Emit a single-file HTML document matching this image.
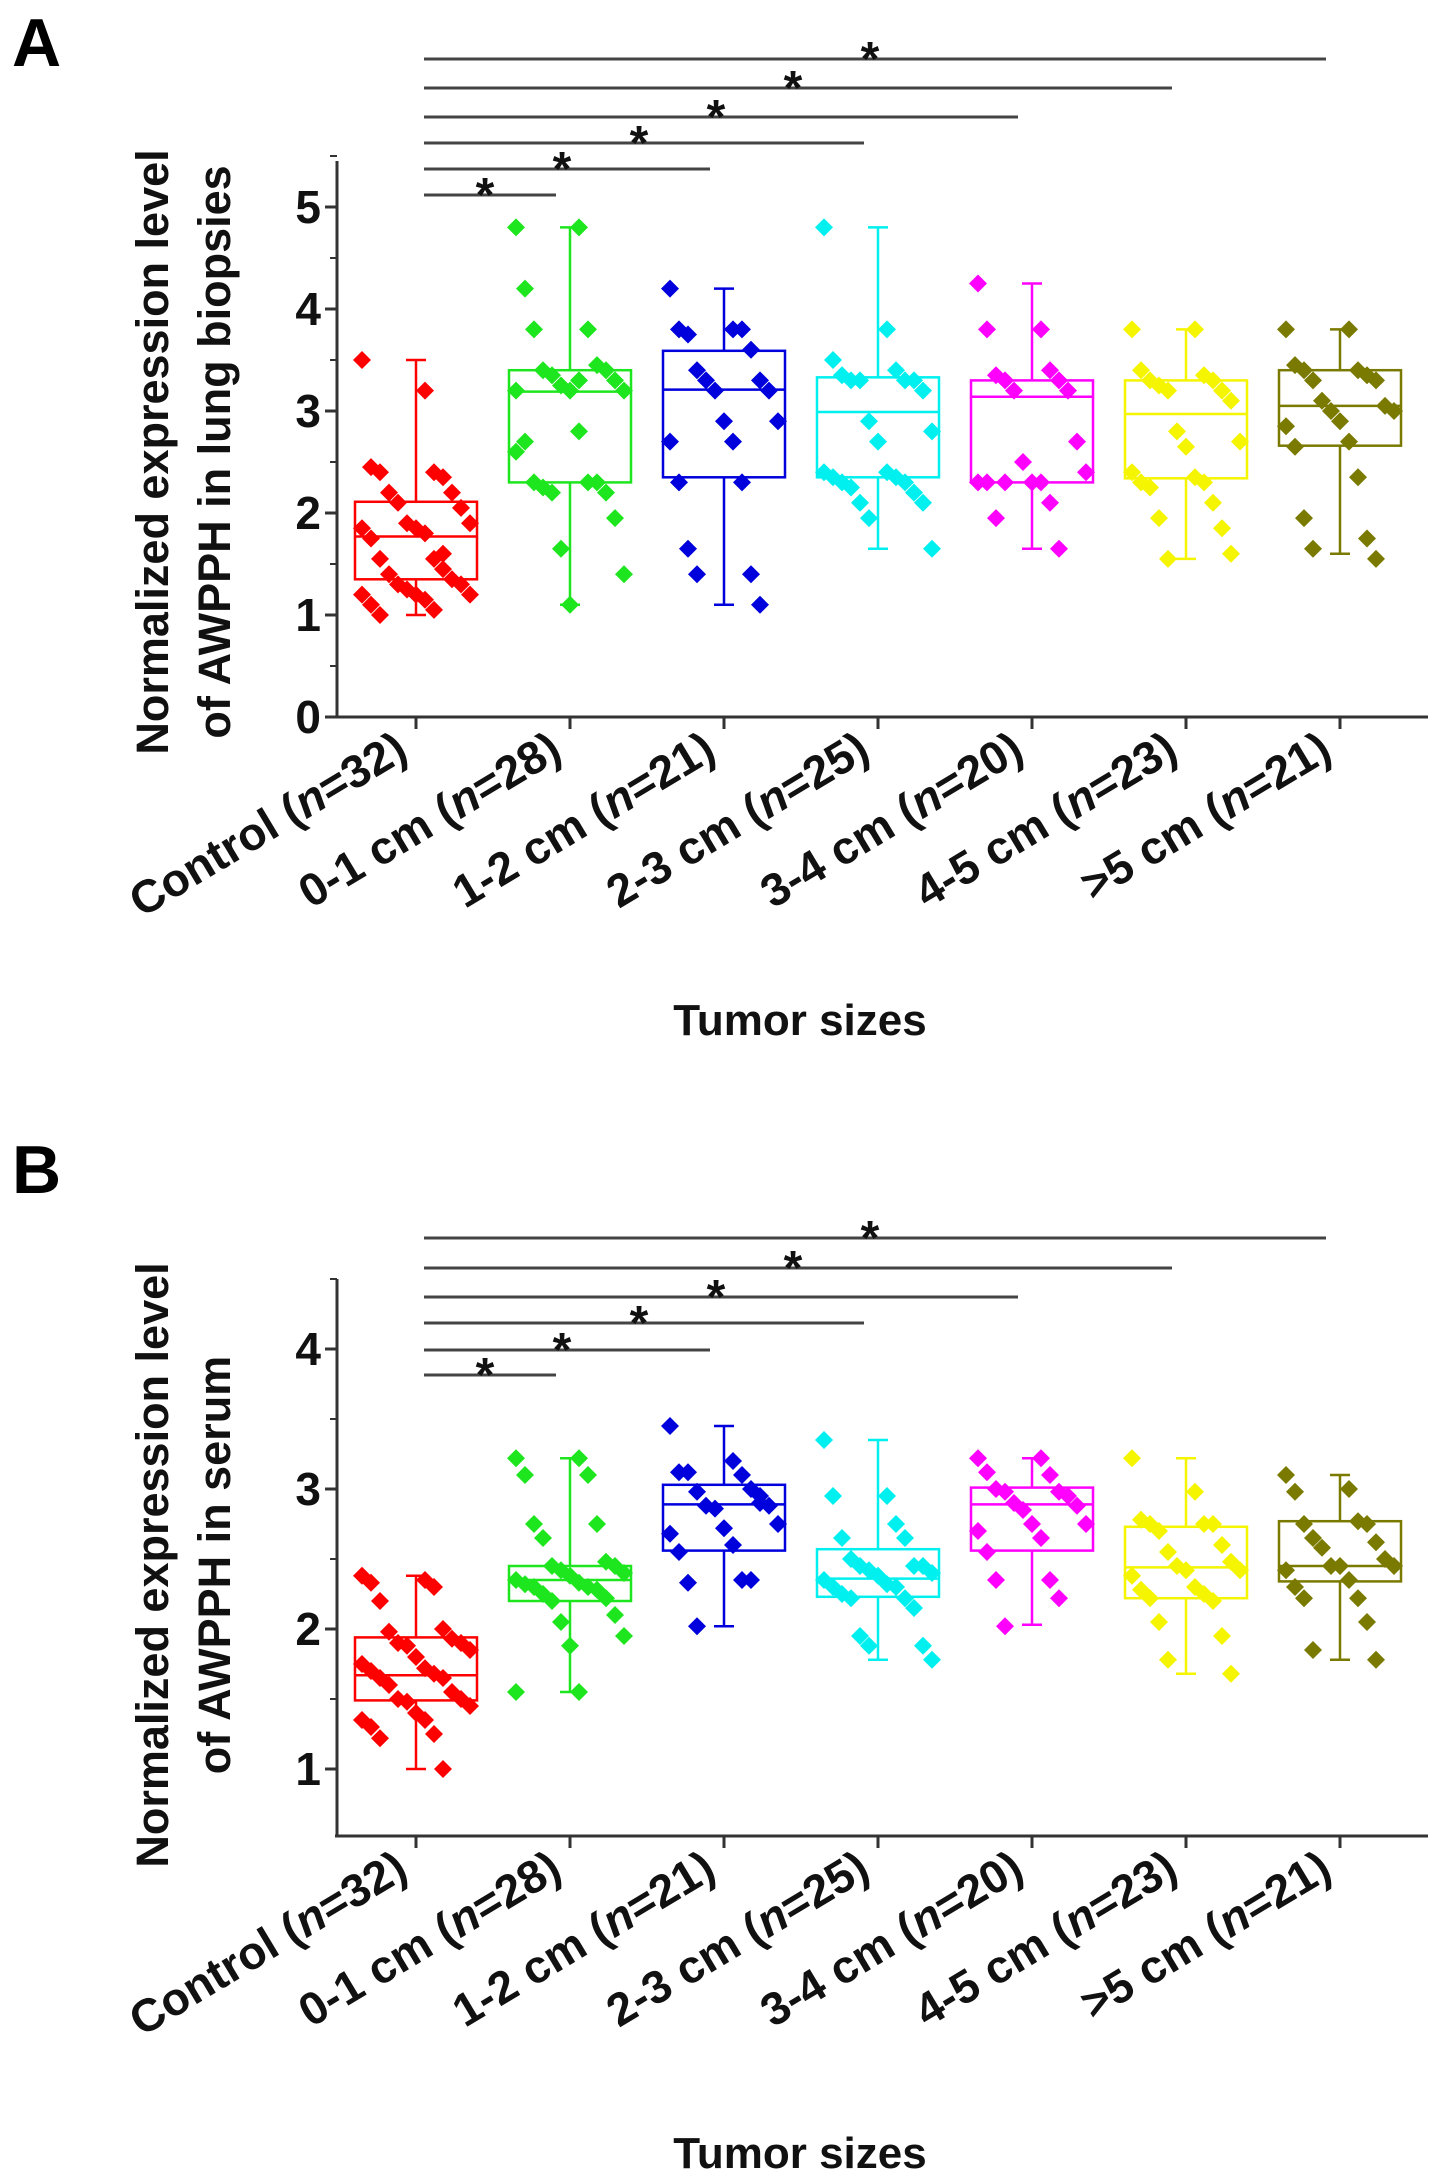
<!DOCTYPE html>
<html><head><meta charset="utf-8"><style>
html,body{margin:0;padding:0;background:#fff;}
svg{display:block;font-family:"Liberation Sans",Arial,sans-serif;}
</style></head><body>
<svg id="fig" width="1441" height="2178" viewBox="0 0 1441 2178" xmlns="http://www.w3.org/2000/svg"></svg>
<script>
const categories = ["Control (n=32)","0-1 cm (n=28)","1-2 cm (n=21)","2-3 cm (n=25)","3-4 cm (n=20)","4-5 cm (n=23)",">5 cm (n=21)"];
const colors = ["#ff0000","#1ee61e","#0000dd","#00f0f0","#ff00ff","#f5f500","#7a7a00"];
// Panel A box stats: [whiskerLow, Q1, median, Q3, whiskerHigh]
const boxA = [[1.0,1.35,1.77,2.11,3.5],[1.1,2.30,3.19,3.40,4.8],[1.1,2.35,3.21,3.59,4.2],[1.65,2.35,2.99,3.33,4.8],[1.65,2.30,3.14,3.30,4.25],[1.55,2.34,2.97,3.30,3.8],[1.6,2.66,3.05,3.40,3.8]];
const ptsA0 = [3.5,3.2,2.45,2.4,2.4,2.35,2.2,2.2,2.1,2.05,1.9,1.9,1.85,1.85,1.8,1.75,1.55,1.55,1.45,1.4,1.35,1.3,1.3,1.25,1.2,1.2,1.2,1.15,1.1,1.05,1.0,1.6];
const ptsA1 = [4.8,4.8,4.2,3.8,3.8,3.45,3.4,3.4,3.35,3.3,3.25,3.2,3.2,3.2,2.8,2.7,2.3,2.3,2.3,2.25,2.2,2.2,1.95,1.65,1.4,1.1,2.6,3.3];
const ptsA2 = [4.2,3.8,3.8,3.8,3.75,3.6,3.4,3.3,3.3,3.2,3.2,2.9,2.9,2.7,2.7,2.3,2.3,1.65,1.4,1.4,1.1];
const ptsA3 = [4.8,3.8,3.5,3.4,3.35,3.3,3.3,3.3,3.3,3.2,2.9,2.8,2.7,2.4,2.4,2.35,2.35,2.3,2.3,2.25,2.2,2.1,2.1,1.95,1.65];
const ptsA4 = [4.25,3.8,3.8,3.4,3.35,3.3,3.3,3.2,3.2,2.7,2.5,2.4,2.3,2.3,2.3,2.3,2.1,1.95,1.65,2.3];
const ptsA5 = [3.8,3.8,3.4,3.35,3.3,3.3,3.25,3.2,3.2,3.1,2.8,2.7,2.65,2.4,2.35,2.3,2.3,2.25,2.1,1.95,1.85,1.55,1.6];
const ptsA6 = [3.8,3.8,3.45,3.4,3.4,3.35,3.3,3.3,3.1,3.05,3.0,3.0,2.9,2.85,2.7,2.65,2.35,1.95,1.75,1.65,1.55];
// Panel B
const boxB = [[1.0,1.49,1.67,1.94,2.38],[1.55,2.20,2.35,2.45,3.22],[2.02,2.56,2.89,3.03,3.45],[1.78,2.23,2.36,2.57,3.35],[2.03,2.56,2.89,3.01,3.22],[1.68,2.22,2.44,2.73,3.22],[1.78,2.34,2.45,2.77,3.1]];
const ptsB0 = [2.38,2.35,2.33,2.3,2.2,2.0,1.98,1.93,1.9,1.9,1.88,1.85,1.8,1.75,1.72,1.7,1.68,1.65,1.65,1.6,1.55,1.5,1.5,1.48,1.45,1.4,1.35,1.35,1.3,1.25,1.22,1.0];
const ptsB1 = [3.22,3.22,3.1,3.1,2.75,2.75,2.65,2.48,2.45,2.45,2.42,2.4,2.38,2.35,2.33,2.32,2.3,2.3,2.28,2.25,2.22,2.2,2.1,2.05,1.95,1.88,1.55,1.55];
const ptsB2 = [3.45,3.2,3.12,3.1,3.12,3.0,2.98,2.95,2.88,2.88,2.86,2.75,2.72,2.68,2.6,2.55,2.35,2.33,2.35,2.02,2.9];
const ptsB3 = [3.35,2.95,2.95,2.75,2.65,2.65,2.5,2.45,2.45,2.45,2.42,2.4,2.38,2.35,2.32,2.3,2.3,2.25,2.22,2.22,2.15,1.95,1.88,1.88,1.78];
const ptsB4 = [3.22,3.22,3.12,3.1,3.0,2.98,2.98,2.95,2.9,2.88,2.85,2.75,2.75,2.7,2.65,2.55,2.35,2.35,2.22,2.02];
const ptsB5 = [3.22,2.98,2.78,2.75,2.75,2.75,2.7,2.6,2.55,2.48,2.45,2.42,2.42,2.38,2.3,2.28,2.25,2.22,2.2,2.05,1.95,1.78,1.68];
const ptsB6 = [3.1,3.0,2.98,2.77,2.75,2.75,2.65,2.62,2.58,2.5,2.45,2.45,2.45,2.42,2.35,2.3,2.22,2.22,2.05,1.85,1.78];
const ticksA = [0,1,2,3,4,5];
const ticksB = [1,2,3,4];
const sigTargetsA = [1,2,3,4,5,6];
const sigTargetsB = [1,2,3,4,5,6];

const NS="http://www.w3.org/2000/svg";
const svg=document.getElementById('fig');
function mk(tag,attrs,parent,text){const e=document.createElementNS(NS,tag);for(const k in attrs)e.setAttribute(k,attrs[k]);if(text!==undefined)e.textContent=text;(parent||svg).appendChild(e);return e;}

function panel(cfg){
  const g=mk('g',{});
  
  
  const y=v=>cfg.y0px-(v-cfg.v0)*cfg.unit;
  const x=i=>416+i*154;
  const xl=337, xr=1428;
  const L=mk('text',{x:12,y:cfg.letterY,'font-size':68,'font-weight':'bold',fill:'#000'},g,cfg.letter);
  
  
  const ya=mk('line',{x1:xl,y1:cfg.top,x2:xl,y2:cfg.axisY,stroke:'#333','stroke-width':3},g);
  
  
  const xa=mk('line',{x1:xl-2,y1:cfg.axisY,x2:xr,y2:cfg.axisY,stroke:'#333','stroke-width':3},g);
  
  
  cfg.ticks.forEach(t=>{
    mk('line',{x1:xl-12,y1:y(t),x2:xl,y2:y(t),stroke:'#333','stroke-width':3},g);
    const tl=mk('text',{x:xl-16,y:y(t)+16,'font-size':46,'font-weight':'bold','text-anchor':'end',fill:'#111'},g,String(t));
    
    
  });
  cfg.minor.forEach(t=>{mk('line',{x1:xl-7,y1:y(t),x2:xl,y2:y(t),stroke:'#333','stroke-width':2},g);});
  categories.forEach((c,i)=>{
    mk('line',{x1:x(i),y1:cfg.axisY,x2:x(i),y2:cfg.axisY+12,stroke:'#333','stroke-width':3},g);
    const parts=c.match(/^(.*\()n(=.*)$/);
    const t=mk('text',{transform:`translate(${x(i)-6},${cfg.axisY+40}) rotate(-31)`,'font-size':46,'font-weight':'bold','text-anchor':'end',fill:'#111'},g);
    
    
    mk('tspan',{},t,parts[1]);mk('tspan',{'font-style':'italic'},t,'n');mk('tspan',{},t,parts[2]);
  });
  const yt=mk('text',{transform:`translate(168,${cfg.titleC}) rotate(-90)`,'font-size':45,'font-weight':'bold','text-anchor':'middle',fill:'#111'},g,'Normalized expression level');
  
  
  const yt2=mk('text',{transform:`translate(230,${cfg.titleC}) rotate(-90)`,'font-size':45,'font-weight':'bold','text-anchor':'middle',fill:'#111'},g,cfg.title2);
  
  
  const xt=mk('text',{x:800,y:cfg.xtitleY,'font-size':44,'font-weight':'bold','text-anchor':'middle',fill:'#111'},g,'Tumor sizes');
  
  
  cfg.boxes.forEach((b,i)=>{
    const cx=x(i),col=colors[i],hw=61;
    const bg=mk('g',{stroke:col,'stroke-width':2.5,fill:'none'},g);
    
    
    mk('line',{x1:cx,y1:y(b[0]),x2:cx,y2:y(b[1])},bg);
    mk('line',{x1:cx,y1:y(b[3]),x2:cx,y2:y(b[4])},bg);
    mk('line',{x1:cx-10,y1:y(b[0]),x2:cx+10,y2:y(b[0])},bg);
    mk('line',{x1:cx-10,y1:y(b[4]),x2:cx+10,y2:y(b[4])},bg);
    mk('rect',{x:cx-hw,y:y(b[3]),width:2*hw,height:y(b[1])-y(b[3])},bg);
    mk('line',{x1:cx-hw,y1:y(b[2]),x2:cx+hw,y2:y(b[2])},bg);
    cfg.pts[i].forEach((v,j)=>{
      const off=(((j*7)%13)-6)*9;
      const px=cx+off,py=y(v),r=9;
      const d=mk('polygon',{points:`${px},${py-r} ${px+r},${py} ${px},${py+r} ${px-r},${py}`,fill:col,stroke:'none'},g);
      
      
    });
  });
  cfg.sig.forEach((tgt,k)=>{
    const yy=cfg.sigY[k];
    const s=mk('line',{x1:x(0)+8,y1:yy,x2:x(tgt)-14,y2:yy,stroke:'#444','stroke-width':3},g);
    
    
    const a=mk('text',{x:(x(0)+x(tgt))/2-8,y:yy+16,'font-size':48,'font-weight':'bold','text-anchor':'middle',fill:'#111'},g,'*');
    
    
  });
}
panel({name:'panel-a',letter:'A',letterY:66,v0:0,y0px:717,unit:102,top:161,axisY:717,ticks:ticksA,minor:[0.5,1.5,2.5,3.5,4.5,5.5],
  titleC:452,title2:'of AWPPH in lung biopsies',xtitleY:1035,boxes:boxA,pts:[ptsA0,ptsA1,ptsA2,ptsA3,ptsA4,ptsA5,ptsA6],
  sig:sigTargetsA,sigY:[195,169,143,117,88,59]});
panel({name:'panel-b',letter:'B',letterY:1193,v0:1,y0px:1769,unit:140,top:1279,axisY:1836,ticks:ticksB,minor:[1.5,2.5,3.5,4.5],
  titleC:1565,title2:'of AWPPH in serum',xtitleY:2168,boxes:boxB,pts:[ptsB0,ptsB1,ptsB2,ptsB3,ptsB4,ptsB5,ptsB6],
  sig:sigTargetsB,sigY:[1375,1350,1323,1297,1268,1238]});
</script>
</body></html>
